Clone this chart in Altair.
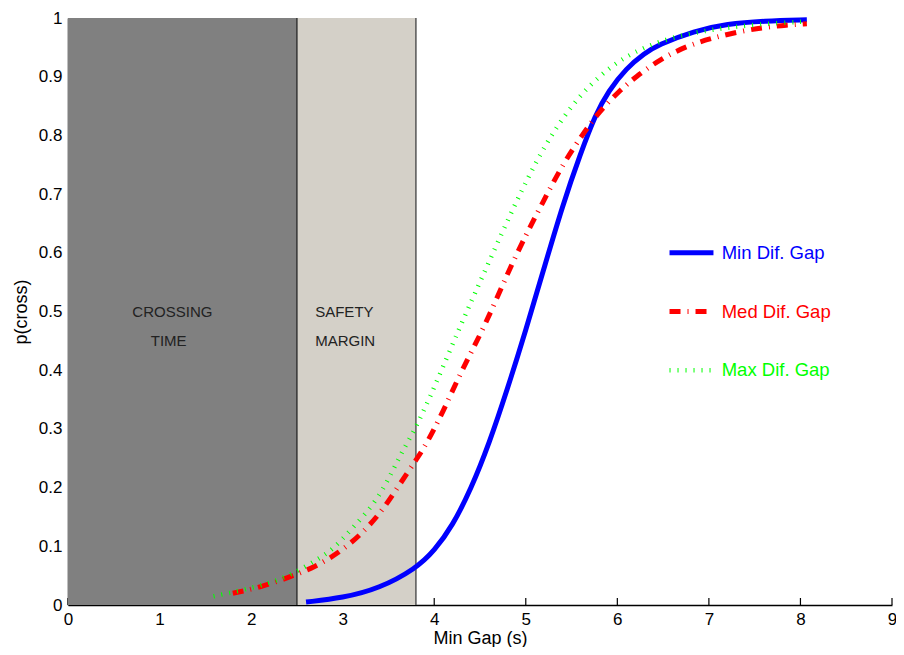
import altair as alt
import pandas as pd

# ---------------- data ----------------
min_x = [2.6, 3.0, 3.4, 3.8, 4.0, 4.2, 4.4, 4.6, 4.8, 5.0, 5.2, 5.4, 5.6, 5.76, 5.9, 6.1, 6.3, 6.44, 6.84, 7.2, 7.6, 8.07]
min_y = [0.005, 0.012, 0.028, 0.062, 0.092, 0.135, 0.197, 0.275, 0.368, 0.468, 0.574, 0.68, 0.77, 0.835, 0.875, 0.915, 0.94, 0.954, 0.978, 0.99, 0.995, 0.997]

med_x = [1.8, 2.1, 2.43, 2.7, 2.96, 3.2, 3.41, 3.6, 3.8, 3.9, 4.1, 4.3, 4.55, 4.8, 5.0, 5.18, 5.4, 5.63, 5.8, 6.01, 6.2, 6.48, 6.77, 7.02, 7.3, 7.6, 7.85, 8.07]
med_y = [0.02, 0.03, 0.048, 0.065, 0.089, 0.12, 0.156, 0.20, 0.247, 0.27, 0.33, 0.40, 0.474, 0.565, 0.63, 0.684, 0.75, 0.804, 0.84, 0.874, 0.90, 0.931, 0.953, 0.965, 0.976, 0.984, 0.988, 0.99]

max_x = [1.59, 1.9, 2.2, 2.43, 2.7, 2.9, 3.1, 3.37, 3.55, 3.68, 3.81, 4.0, 4.28, 4.5, 4.87, 5.22, 5.58, 6.01, 6.52, 7.0, 7.5, 8.05]
max_y = [0.015, 0.025, 0.037, 0.051, 0.075, 0.095, 0.13, 0.176, 0.23, 0.27, 0.305, 0.37, 0.474, 0.55, 0.68, 0.789, 0.869, 0.931, 0.965, 0.98, 0.989, 0.994]

series_names = ["Min Dif. Gap", "Med Dif. Gap", "Max Dif. Gap"]

band_names = ["CROSSING TIME", "SAFETY MARGIN"]
band_start = [0.0, 2.5]
band_end = [2.5, 3.8]

band_label_lines = ["CROSSING", "TIME", "SAFETY", "MARGIN"]

x_ticks = [0, 1, 2, 3, 4, 5, 6, 7, 8, 9]
y_ticks = [0, 0.1, 0.2, 0.3, 0.4, 0.5, 0.6, 0.7, 0.8, 0.9, 1]

# ---------------- layout / style ----------------
W, H = 824, 587
FONT = "Liberation Sans"
colors = ["#0000ff", "#ff0000", "#00ff00"]

xs = alt.Scale(domain=[0, 9], nice=False, zero=False)
ys = alt.Scale(domain=[0, 1], nice=False, zero=False)

x_axis = alt.Axis(values=x_ticks, title="Min Gap (s)", format="d", tickSize=0,
                  labelFontSize=17, titleFontSize=18, labelFont=FONT, titleFont=FONT,
                  labelColor="black", titleColor="black", titleFontWeight="normal",
                  domainColor="black", domainWidth=1.5, grid=False, labelPadding=6,
                  titlePadding=2, labelFlush=False)
y_axis = alt.Axis(values=y_ticks, title="p(cross)", format=".1~f", tickSize=0,
                  labelFontSize=17, titleFontSize=18, labelFont=FONT, titleFont=FONT,
                  labelColor="black", titleColor="black", titleFontWeight="normal",
                  domainColor="black", domainWidth=1.5, grid=False, labelPadding=6,
                  titlePadding=8, labelFlush=False)

# ticks (inward, drawn under bands)
ticks_df = pd.DataFrame({"t": x_ticks})
ticks = alt.Chart(ticks_df).mark_rule(color="black", strokeWidth=1.2).encode(
    x=alt.X("t:Q", scale=xs, axis=x_axis),
    y=alt.value(H),
    y2=alt.value(H - 7),
)

bands_df = pd.DataFrame({"name": band_names, "x0": band_start, "x1": band_end})
bands = alt.Chart(bands_df).mark_rect().encode(
    x=alt.X("x0:Q", scale=xs, axis=x_axis),
    x2="x1:Q",
    y=alt.value(0),
    y2=alt.value(H),
    fill=alt.Fill("name:N", scale=alt.Scale(domain=band_names, range=["#808080", "#d4d0c8"]), legend=None),
)

edges_df = pd.DataFrame({"e": band_end, "c": ["#333333", "#555555"]})
edges = alt.Chart(edges_df).mark_rule(strokeWidth=1.5).encode(
    x=alt.X("e:Q", scale=xs),
    y=alt.value(0),
    y2=alt.value(H),
    color=alt.Color("c:N", scale=None),
)

labels_df = pd.DataFrame({
    "text": band_label_lines,
    "x": [1.14, 1.10, 2.70, 2.70],
    "y": [0.499, 0.45, 0.499, 0.45],
    "align": ["center", "center", "left", "left"],
})
lab_c = alt.Chart(labels_df[labels_df["align"] == "center"]).mark_text(
    font=FONT, fontSize=15, color="#222222", align="center", baseline="middle"
).encode(x=alt.X("x:Q", scale=xs), y=alt.Y("y:Q", scale=ys, axis=y_axis), text="text:N")
lab_l = alt.Chart(labels_df[labels_df["align"] == "left"]).mark_text(
    font=FONT, fontSize=15, color="#222222", align="left", baseline="middle"
).encode(x=alt.X("x:Q", scale=xs), y=alt.Y("y:Q", scale=ys), text="text:N")

# series lines
def line_layer(xv, yv, color, width, dash=None):
    df = pd.DataFrame({"x": xv, "y": yv})
    kw = dict(color=color, strokeWidth=width, interpolate="basis", strokeCap="butt")
    if dash is not None:
        kw["strokeDash"] = dash
    return alt.Chart(df).mark_line(**kw).encode(
        x=alt.X("x:Q", scale=xs), y=alt.Y("y:Q", scale=ys)
    )

dashes = [None, [11, 7, 1, 7], [1, 7]]
widths = [5, 5, 4.5]
blue = line_layer(min_x, min_y, colors[0], widths[0], dashes[0])
red = line_layer(med_x, med_y, colors[1], widths[1], dashes[1])
green = line_layer(max_x, max_y, colors[2], widths[2], dashes[2])

# legend (drawn inside plot)
leg_y = [0.6, 0.5, 0.4]
leg_layers = []
for i, name in enumerate(series_names):
    ldf = pd.DataFrame({"x0": [6.57], "x1": [7.05], "y": [leg_y[i]], "tx": [7.14], "name": [name]})
    kw = dict(color=colors[i], strokeWidth=widths[i], strokeCap="butt")
    if dashes[i] is not None:
        kw["strokeDash"] = dashes[i]
    leg_layers.append(alt.Chart(ldf).mark_rule(**kw).encode(
        x=alt.X("x0:Q", scale=xs), x2="x1:Q", y=alt.Y("y:Q", scale=ys)))
    leg_layers.append(alt.Chart(ldf).mark_text(
        font=FONT, fontSize=18.5, color=colors[i], align="left", baseline="middle"
    ).encode(x=alt.X("tx:Q", scale=xs), y=alt.Y("y:Q", scale=ys), text="name:N"))

chart = alt.layer(
    ticks, bands, edges, lab_c, lab_l, blue, red, green, *leg_layers
).properties(
    width=W, height=H,
    autosize=alt.AutoSizeParams(type="none"),
    padding={"left": 60, "top": 10, "right": 4, "bottom": 42},
    background="white",
).configure_view(stroke=None)

chart.save("out.html", embed_options={"renderer": "svg", "actions": False})
